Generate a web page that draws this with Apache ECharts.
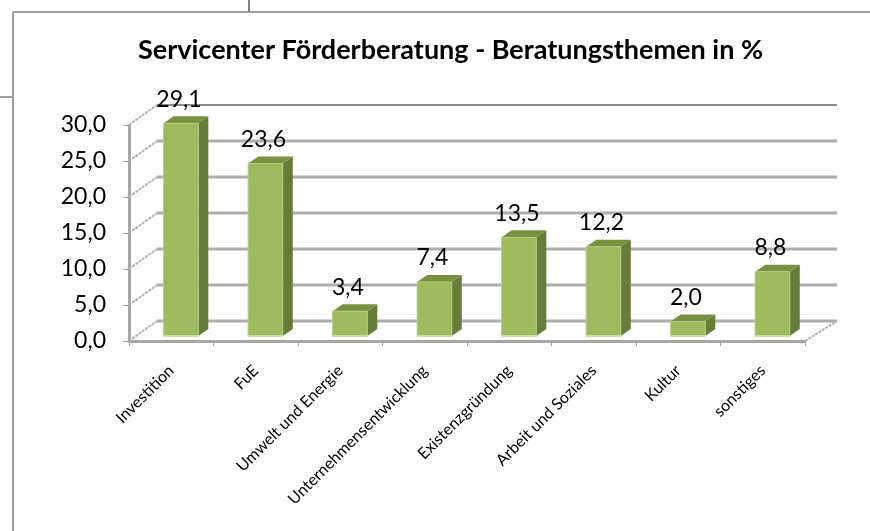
<!DOCTYPE html>
<html>
<head>
<meta charset="utf-8">
<style>
  html, body { margin: 0; padding: 0; background: #fff; }
  #chart { width: 870px; height: 531px; }
</style>
<script src="https://cdn.jsdelivr.net/npm/echarts@6/dist/echarts.min.js"></script>
</head>
<body>
<div id="chart"></div>
<script>
var categories = ['Investition', 'FuE', 'Umwelt und Energie', 'Unternehmensentwicklung', 'Existenzgründung', 'Arbeit und Soziales', 'Kultur', 'sonstiges']
var values = [29.1, 23.6, 3.4, 7.4, 13.5, 12.2, 2.0, 8.8]
var yTicks = [0, 5, 10, 15, 20, 25, 30]

var FONT = 'Lato, "Open Sans", sans-serif'
// Schraegversatz der Rueckwand
var WALL_DX = 28
var WALL_DY = -20
var WALL_RIGHT = 837

function comma (v) {
  return v.toFixed(1).replace('.', ',')
}

var myChart = echarts.init(document.getElementById('chart'))

function renderWall (params, api) {
  var v = api.value(0)
  var p = api.coord([0, v])
  var left = params.coordSys.x
  var right = params.coordSys.x + params.coordSys.width
  var children = [
    {
      type: 'line',
      shape: { x1: left, y1: p[1], x2: left + WALL_DX, y2: p[1] + WALL_DY },
      style: { stroke: '#b0b0b0', lineWidth: 2, lineDash: [3, 1] }
    },
    {
      type: 'line',
      shape: { x1: left + WALL_DX, y1: p[1] + WALL_DY, x2: WALL_RIGHT, y2: p[1] + WALL_DY },
      style: v === 30 ? { stroke: '#8c8c8c', lineWidth: 2 } : { stroke: '#adadad', lineWidth: 3 }
    }
  ]
  if (v === 0) {
    children.push({
      type: 'line',
      shape: { x1: right, y1: p[1], x2: WALL_RIGHT, y2: p[1] + WALL_DY },
      style: { stroke: '#b0b0b0', lineWidth: 2, lineDash: [3, 1] }
    })
  }
  return { type: 'group', children: children }
}

function renderBar (params, api) {
  var i = api.value(0)
  var v = api.value(1)
  var catW = api.size([1, 0])[0]
  var c = api.coord([i, 0])
  var h = api.size([0, v])[1] * 1.015
  var w = catW * 0.41
  var x0 = c[0] + catW * 0.115 - w / 2
  var x1 = x0 + w
  var yb = c[1] - 5
  var yt = yb - h
  var dx = 10
  var dy = -7
  return {
    type: 'group',
    children: [
      {
        type: 'polygon',
        shape: { points: [[x1, yt], [x1 + dx, yt + dy], [x1 + dx, yb + dy], [x1, yb]] },
        style: { fill: '#667c39' }
      },
      {
        type: 'polygon',
        shape: { points: [[x0, yt], [x0 + dx, yt + dy], [x1 + dx, yt + dy], [x1, yt]] },
        style: { fill: '#77913f' }
      },
      {
        type: 'rect',
        shape: { x: x0, y: yt, width: w, height: h },
        style: { fill: '#9dbb5c', stroke: '#b4cb84', lineWidth: 1 }
      },
      {
        type: 'rect',
        shape: { x: x0 - 0.5, y: yb - 1, width: w + 1, height: 2 },
        style: { fill: '#cbdca4' }
      },
      {
        type: 'text',
        style: {
          x: (x0 + x1) / 2 - 2,
          y: yt - 24,
          text: comma(v),
          font: '23px ' + FONT,
          fill: '#000',
          align: 'center',
          verticalAlign: 'middle'
        }
      }
    ]
  }
}

myChart.setOption({
  animation: false,
  backgroundColor: '#fff',
  title: {
    text: 'Servicenter Förderberatung - Beratungsthemen in %',
    left: 133,
    top: 32,
    textStyle: { fontFamily: FONT, fontSize: 27, fontWeight: 'bold', color: '#000' }
  },
  grid: { left: 129, top: 125, width: 676, height: 216 },
  xAxis: {
    type: 'category',
    data: categories,
    axisLine: { lineStyle: { color: '#a6a6a6', width: 3 } },
    axisTick: { show: true, length: 5, lineStyle: { color: '#a6a6a6', width: 1 } },
    axisLabel: { interval: 0, rotate: 45, margin: 27, fontFamily: FONT, fontSize: 16, color: '#000' }
  },
  yAxis: {
    type: 'value',
    min: 0,
    max: 30,
    interval: 5,
    splitLine: { show: false },
    axisLine: { show: true, lineStyle: { color: '#a6a6a6', width: 3 } },
    axisTick: { show: true, length: 6, lineStyle: { color: '#a6a6a6', width: 1 } },
    axisLabel: { margin: 23, padding: [3, 0, 0, 0], fontFamily: FONT, fontSize: 23, color: '#000', formatter: comma }
  },
  series: [
    {
      type: 'custom',
      coordinateSystem: 'cartesian2d',
      renderItem: renderWall,
      encode: { y: 0 },
      data: yTicks.map(function (t) { return [t] }),
      z: 1,
      silent: true
    },
    {
      type: 'custom',
      coordinateSystem: 'cartesian2d',
      renderItem: renderBar,
      encode: { x: 0, y: 1 },
      data: values.map(function (v, i) { return [i, v] }),
      z: 3,
      silent: true
    }
  ],
  graphic: [
    { type: 'line', shape: { x1: 13, y1: 12, x2: 870, y2: 12 }, style: { stroke: '#a0a0a0', lineWidth: 2 } },
    { type: 'line', shape: { x1: 13, y1: 12, x2: 13, y2: 531 }, style: { stroke: '#a0a0a0', lineWidth: 2 } },
    { type: 'line', shape: { x1: 249, y1: 0, x2: 249, y2: 12 }, style: { stroke: '#808080', lineWidth: 2 } },
    { type: 'line', shape: { x1: 0, y1: 97, x2: 13, y2: 97 }, style: { stroke: '#a0a0a0', lineWidth: 2 } }
  ]
})
</script>
</body>
</html>
